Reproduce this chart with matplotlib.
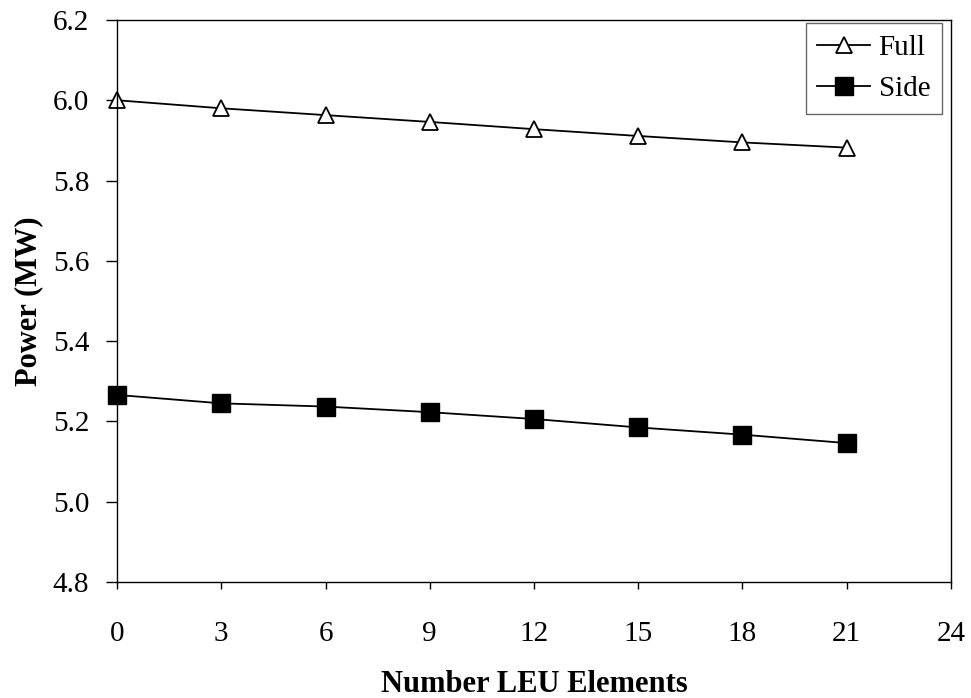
import numpy as np
import matplotlib
matplotlib.use("Agg")
import matplotlib.pyplot as plt

plt.rcParams['font.family'] = ['Liberation Serif', 'DejaVu Serif']

# number of LEU elements and power (MW)
elements = [0, 3, 6, 9, 12, 15, 18, 21]
full = [6.00, 5.98, 5.963, 5.946, 5.928, 5.911, 5.895, 5.882]
side = [5.266, 5.245, 5.237, 5.223, 5.206, 5.185, 5.167, 5.146]

fig = plt.figure(figsize=(9.71, 6.98), dpi=100)
ax = fig.add_axes([0.1205, 0.1662, 0.8589, 0.8052])

ax.plot(elements, full, color='black', lw=1.3, marker='^', ms=12,
        mfc='white', mec='black', mew=1.3, label='Full', clip_on=False)
ax.plot(elements, side, color='black', lw=1.3, marker='s', ms=13,
        mfc='black', mec='black', label='Side', clip_on=False)

ax.set_xlim(0, 24)
ax.set_ylim(4.8, 6.2)
ax.set_xticks(np.arange(0, 25, 3))
ax.set_yticks(np.arange(4.8, 6.21, 0.2))
ax.yaxis.set_major_formatter(matplotlib.ticker.FormatStrFormatter('%.1f'))

for s in ax.spines.values():
    s.set_linewidth(1.0)

ax.tick_params(direction='out', width=1.0, labelsize=21)
ax.tick_params(axis='x', length=5, pad=23)
ax.tick_params(axis='y', length=8, pad=12)

ax.set_xlabel('Number LEU Elements', fontsize=22, fontweight='bold', labelpad=17)
ax.set_ylabel('Power (MW)', fontsize=22, fontweight='bold', labelpad=7)

leg = ax.legend(loc='upper right', bbox_to_anchor=(0.989, 0.995), borderaxespad=0,
                fontsize=21, frameon=True, fancybox=False, edgecolor='#404040',
                handlelength=1.8, handletextpad=0.3, borderpad=0.4,
                labelspacing=0.5)
leg.get_frame().set_linewidth(1.0)

fig.savefig('out.png', dpi=100)
